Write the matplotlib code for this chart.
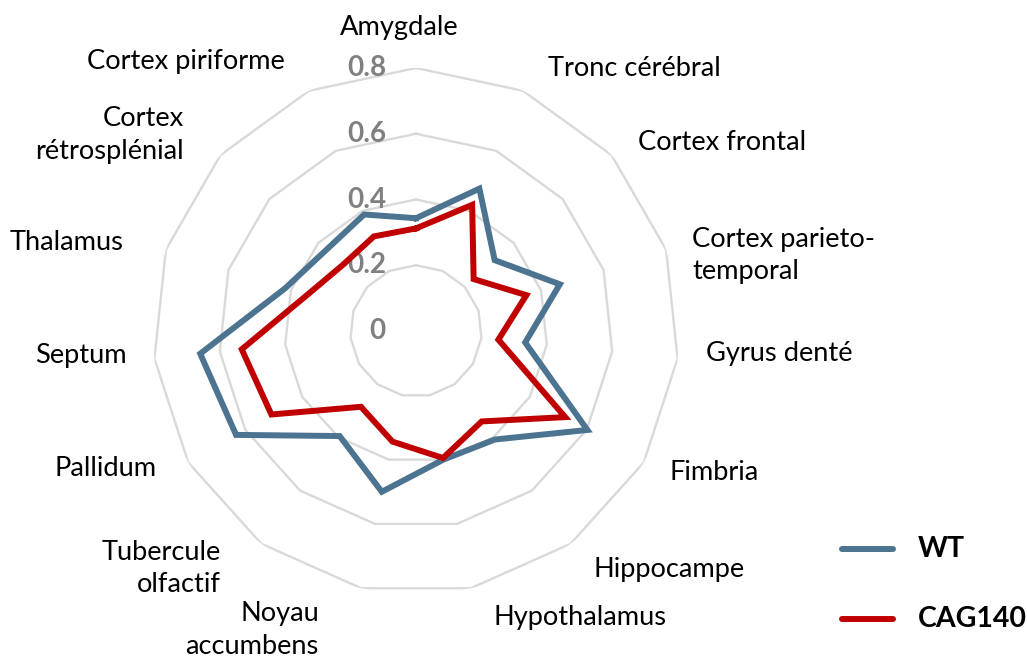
import numpy as np
import matplotlib
matplotlib.use("Agg")
import matplotlib.pyplot as plt
from matplotlib.lines import Line2D
from matplotlib.transforms import offset_copy

# ---- data -------------------------------------------------------------
categories = [
    "Amygdale", "Tronc cérébral", "Cortex frontal", "Cortex parieto-\ntemporal",
    "Gyrus denté", "Fimbria", "Hippocampe", "Hypothalamus", "Noyau\naccumbens",
    "Tubercule\nolfactif", "Pallidum", "Septum", "Thalamus",
    "Cortex\nrétrosplénial", "Cortex piriforme",
]
wt = [0.343, 0.474, 0.322, 0.460, 0.334, 0.602, 0.408, 0.400,
      0.500, 0.395, 0.632, 0.660, 0.419, 0.368, 0.388]
cag140 = [0.312, 0.420, 0.236, 0.353, 0.252, 0.524, 0.340, 0.395,
          0.344, 0.285, 0.508, 0.533, 0.350, 0.300, 0.315]
series_names = ["WT", "CAG140"]
r_ticks = [0.0, 0.2, 0.4, 0.6, 0.8]
r_tick_labels = ["0", "0.2", "0.4", "0.6", "0.8"]

# ---- style / layout ---------------------------------------------------
W, H = 1027, 658
FONT = ["Lato", "DejaVu Sans"]
plt.rcParams["font.family"] = FONT
colors = ["#4C7490", "#C00000"]
grid_color = "#D9D9D9"
cx, cy, rad = 416, 331, 263          # chart centre and outer radius (px)
LINE_W = 4.3
LABEL_SIZE = 19.6

# label anchor points (px from top-left) and horizontal alignment
label_pos = [
    (399, 27, "center"), (548, 68, "left"), (638, 143, "left"),
    (692, 255, "left"), (706, 353, "left"), (669, 472, "left"),
    (593, 570, "left"), (493, 618, "left"), (319, 630, "right"),
    (221, 569, "right"), (157, 468, "right"), (127, 355, "right"),
    (124, 243, "right"), (184, 135, "right"), (285, 62, "right"),
]


def px(x, y):
    return x / W, 1 - y / H


fig = plt.figure(figsize=(W / 100, H / 100), dpi=100)
ax = fig.add_axes([(cx - rad) / W, (H - cy - rad) / H, 2 * rad / W, 2 * rad / H],
                  projection="polar")
ax.set_theta_zero_location("N")
ax.set_theta_direction(-1)
ax.set_ylim(0, 0.8)
ax.grid(False)
ax.spines["polar"].set_visible(False)
ax.set_xticks([])
ax.set_yticks([])
ax.patch.set_alpha(0)

n = len(categories)
angles = np.linspace(0, 2 * np.pi, n, endpoint=False)
closed = np.append(angles, angles[0])

# polygonal grid rings
for r in r_ticks[1:]:
    ax.plot(closed, [r] * (n + 1), color=grid_color, lw=1.7, zorder=1,
            solid_joinstyle="miter")

# radial value labels along the vertical axis
tick_tf = offset_copy(ax.transData, fig=fig, x=-30, y=0, units="dots")
for r, lab in zip(r_ticks, r_tick_labels):
    ax.text(0, r, lab, transform=tick_tf, ha="right", va="center",
            fontsize=20, fontweight="bold", color="#808080", zorder=2)

# data series
lines = []
for vals, col in zip([wt, cag140], colors):
    ln, = ax.plot(closed, list(vals) + [vals[0]], color=col, lw=LINE_W,
                  solid_joinstyle="miter", zorder=3, clip_on=False)
    lines.append(ln)

# category labels
for lab, (x, y, ha) in zip(categories, label_pos):
    fig.text(*px(x, y), lab, ha=ha, va="center", fontsize=LABEL_SIZE,
             color="#000000", multialignment=ha, linespacing=1.35)

# legend
for i, (name, ln) in enumerate(zip(series_names, lines)):
    y = 549 + i * 70
    fig.add_artist(Line2D([842 / W, 893 / W], [1 - y / H, 1 - y / H],
                          color=ln.get_color(), lw=LINE_W, solid_capstyle="round"))
    fig.text(*px(918, y), name, ha="left", va="center", fontsize=20.5,
             fontweight="bold", color="#000000")

fig.savefig("out.png", dpi=100)
